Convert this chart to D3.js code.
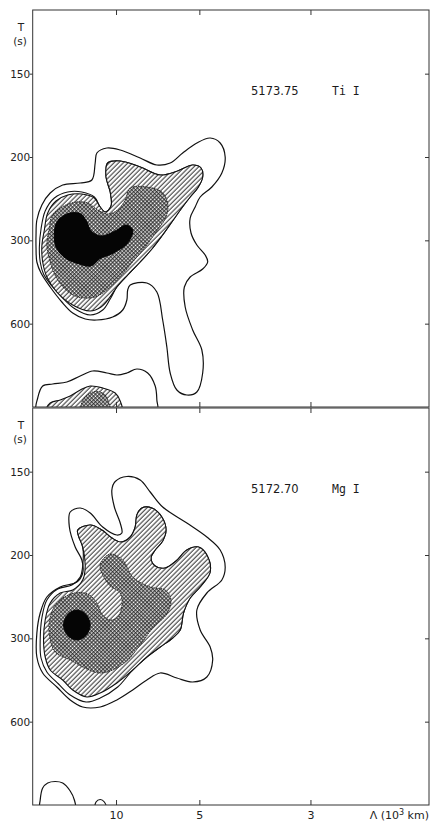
<!DOCTYPE html>
<html>
<head>
<meta charset="utf-8">
<script src="https://cdn.jsdelivr.net/npm/d3@7/dist/d3.min.js"></script>
<style>
  html, body { margin: 0; padding: 0; background: #fff; }
  svg { display: block; }
  .axis text { font-family: "DejaVu Sans", sans-serif; font-size: 10.5px; fill: #222; }
  .axis line { stroke: #333; stroke-width: 1; }
  .axis path { display: none; }
</style>
</head>
<body>
<svg id="chart" width="431" height="823"></svg>
<script>
// Axis ticks: wavelength Λ (10^3 km) and period T (s)
const wavelengthTicks = [10, 5, 3];
const periodTicks = [150, 200, 300, 600];

// Contours in (wavenumber 1/Λ [per 10^3 km], frequency [mHz])
// ---- 5173.75 Ti I ----
const tiOuter = [
  [0.189,3.78],[0.190,3.48],[0.197,3.24],[0.207,3.04],[0.210,2.90],[0.204,2.76],[0.189,2.60],
  [0.182,2.40],[0.183,2.00],[0.192,1.54],[0.203,1.14],[0.204,0.68],[0.197,0.30],[0.185,0.24],
  [0.173,0.34],[0.165,0.68],[0.161,1.20],[0.156,1.74],[0.149,2.30],[0.137,2.48],[0.117,2.44],
  [0.114,2.34],[0.113,2.14],[0.108,1.94],[0.096,1.80],[0.077,1.74],[0.063,1.76],[0.048,1.88],
  [0.035,2.10],[0.021,2.40],[0.010,2.68],[0.005,2.90],[0.004,3.18],[0.004,3.44],[0.005,3.74],
  [0.011,4.04],[0.021,4.28],[0.036,4.44],[0.057,4.48],[0.071,4.54],[0.075,4.88],[0.077,5.08],
  [0.089,5.18],[0.105,5.14],[0.129,4.98],[0.149,4.84],[0.165,4.88],[0.180,5.08],[0.197,5.28],
  [0.213,5.38],[0.225,5.28],[0.231,5.00],[0.227,4.68],[0.215,4.40],[0.201,4.20],[0.195,4.00]
];
const tiLevel2 = [
  [0.090,4.88],[0.105,4.92],[0.129,4.80],[0.153,4.64],[0.174,4.72],[0.192,4.84],[0.202,4.78],
  [0.204,4.60],[0.198,4.38],[0.189,4.20],[0.178,3.96],[0.167,3.70],[0.155,3.42],[0.143,3.16],
  [0.129,2.90],[0.114,2.64],[0.101,2.40],[0.093,2.16],[0.084,1.94],[0.069,1.84],[0.051,1.96],
  [0.036,2.18],[0.023,2.42],[0.013,2.66],[0.009,2.90],[0.008,3.20],[0.010,3.56],[0.015,3.92],
  [0.026,4.18],[0.042,4.30],[0.059,4.30],[0.074,4.20],[0.081,4.00],[0.087,3.90],[0.094,4.02],
  [0.093,4.30],[0.088,4.60]
];
const tiHatched = [
  [0.090,4.88],[0.105,4.92],[0.129,4.80],[0.153,4.64],[0.174,4.72],[0.192,4.84],[0.202,4.78],
  [0.204,4.60],[0.198,4.38],[0.189,4.20],[0.178,3.96],[0.167,3.70],[0.155,3.42],[0.143,3.16],
  [0.129,2.90],[0.114,2.64],[0.101,2.40],[0.092,2.18],[0.082,2.00],[0.069,1.92],[0.048,2.04],
  [0.029,2.30],[0.017,2.60],[0.012,2.90],[0.011,3.22],[0.014,3.54],[0.018,3.88],[0.028,4.12],
  [0.042,4.24],[0.059,4.26],[0.074,4.18],[0.081,4.00],[0.087,3.90],[0.094,4.02],[0.093,4.30],
  [0.088,4.60]
];
const tiCross = [
  [0.117,4.38],[0.137,4.40],[0.155,4.30],[0.162,4.08],[0.160,3.80],[0.149,3.52],[0.135,3.20],
  [0.120,2.90],[0.107,2.64],[0.093,2.40],[0.075,2.20],[0.054,2.20],[0.040,2.34],[0.028,2.60],
  [0.021,2.90],[0.017,3.24],[0.020,3.58],[0.023,3.82],[0.035,4.00],[0.052,4.10],[0.066,4.08],
  [0.078,3.94],[0.090,3.86],[0.102,3.94],[0.111,4.14]
];
const tiCore = [
  [0.033,3.78],[0.045,3.88],[0.058,3.86],[0.065,3.70],[0.070,3.52],[0.082,3.42],[0.099,3.52],
  [0.112,3.64],[0.120,3.54],[0.114,3.28],[0.097,3.08],[0.080,2.96],[0.070,2.82],[0.056,2.86],
  [0.039,2.98],[0.028,3.20],[0.026,3.48],[0.028,3.66]
];
const tiLowOuter = [
  [0.005,-0.10],[0.006,0.18],[0.012,0.42],[0.024,0.46],[0.041,0.50],[0.057,0.62],[0.072,0.72],
  [0.089,0.68],[0.101,0.64],[0.113,0.68],[0.125,0.76],[0.138,0.68],[0.147,0.42],[0.149,0.14],
  [0.149,-0.10],[0.081,-0.26]
];
const tiLowHatched = [
  [0.016,-0.10],[0.021,0.08],[0.033,0.14],[0.045,0.22],[0.057,0.34],[0.069,0.42],[0.084,0.38],
  [0.099,0.28],[0.105,0.12],[0.107,-0.10],[0.063,-0.26]
];
const tiLowCross = [
  [0.059,-0.10],[0.060,0.14],[0.069,0.28],[0.078,0.31],[0.087,0.24],[0.091,0.10],[0.093,-0.10],
  [0.076,-0.22]
];

// ---- 5172.70 Mg I ----
const mgOuter = [
  [0.095,6.30],[0.099,6.47],[0.113,6.57],[0.129,6.50],[0.141,6.26],[0.156,5.96],[0.185,5.64],
  [0.209,5.36],[0.225,5.10],[0.231,4.76],[0.227,4.50],[0.209,4.24],[0.197,3.90],[0.201,3.50],
  [0.213,3.16],[0.216,2.90],[0.209,2.56],[0.192,2.46],[0.173,2.54],[0.153,2.64],[0.137,2.50],
  [0.120,2.30],[0.101,2.10],[0.081,1.96],[0.060,1.96],[0.045,2.10],[0.029,2.36],[0.012,2.64],
  [0.005,2.96],[0.005,3.44],[0.009,3.84],[0.017,4.16],[0.033,4.36],[0.053,4.46],[0.060,4.64],
  [0.059,4.90],[0.051,5.16],[0.044,5.56],[0.045,5.86],[0.057,5.94],[0.069,5.84],[0.084,5.56],
  [0.101,5.40],[0.107,5.44],[0.105,5.64],[0.098,5.96]
];
const mgLevel2 = [
  [0.054,5.50],[0.069,5.60],[0.083,5.50],[0.095,5.34],[0.106,5.26],[0.117,5.36],[0.123,5.56],
  [0.125,5.80],[0.131,5.94],[0.143,5.94],[0.155,5.76],[0.160,5.50],[0.156,5.28],[0.147,5.10],
  [0.142,4.94],[0.147,4.78],[0.159,4.74],[0.172,4.88],[0.185,5.10],[0.199,5.16],[0.209,5.00],
  [0.213,4.66],[0.202,4.38],[0.189,4.14],[0.181,3.84],[0.177,3.50],[0.168,3.34],[0.153,3.16],
  [0.137,2.96],[0.120,2.70],[0.102,2.36],[0.081,2.14],[0.064,2.06],[0.045,2.20],[0.031,2.42],
  [0.017,2.66],[0.010,2.94],[0.009,3.30],[0.011,3.74],[0.017,4.10],[0.030,4.32],[0.047,4.40],
  [0.057,4.56],[0.060,4.78],[0.060,5.16],[0.055,5.38]
];
const mgHatched = [
  [0.054,5.50],[0.069,5.60],[0.083,5.50],[0.095,5.34],[0.106,5.26],[0.117,5.36],[0.123,5.56],
  [0.125,5.80],[0.131,5.94],[0.143,5.94],[0.155,5.76],[0.160,5.50],[0.156,5.28],[0.147,5.10],
  [0.142,4.94],[0.147,4.78],[0.159,4.74],[0.172,4.88],[0.185,5.10],[0.199,5.16],[0.209,5.00],
  [0.213,4.66],[0.202,4.38],[0.189,4.14],[0.181,3.84],[0.177,3.50],[0.168,3.34],[0.153,3.16],
  [0.137,2.96],[0.120,2.70],[0.101,2.44],[0.081,2.24],[0.065,2.16],[0.048,2.30],[0.036,2.50],
  [0.021,2.70],[0.015,2.96],[0.013,3.30],[0.015,3.70],[0.021,4.04],[0.033,4.24],[0.048,4.30],
  [0.060,4.50],[0.063,4.76],[0.060,5.16],[0.055,5.38]
];
const mgCross = [
  [0.082,4.86],[0.093,5.02],[0.108,4.90],[0.120,4.56],[0.141,4.36],[0.159,4.30],[0.166,4.10],
  [0.161,3.82],[0.144,3.54],[0.129,3.20],[0.113,2.88],[0.096,2.70],[0.081,2.64],[0.065,2.72],
  [0.045,2.90],[0.027,3.06],[0.020,3.40],[0.021,3.76],[0.030,4.06],[0.050,4.24],[0.066,4.22],
  [0.077,4.04],[0.083,3.82],[0.093,3.70],[0.102,3.76],[0.107,3.98],[0.105,4.24],[0.093,4.38],
  [0.086,4.54],[0.081,4.74]
];
const mgCore = [
  [0.053,3.90],[0.064,3.81],[0.069,3.60],[0.064,3.39],[0.053,3.30],[0.042,3.39],[0.037,3.60],
  [0.042,3.81]
];
const mgLowA = [
  [0.009,-0.10],[0.009,0.10],[0.012,0.34],[0.018,0.44],[0.027,0.47],[0.036,0.44],[0.045,0.28],
  [0.050,0.10],[0.051,-0.10],[0.030,-0.22]
];
const mgLowB = [
  [0.075,-0.06],[0.076,0.06],[0.081,0.11],[0.086,0.06],[0.088,-0.06],[0.081,-0.10]
];

const panels = [
  { id: "ti", top: 10, bottom: 407, wave: "5173.75", species: "Ti I",
    outer: [tiOuter, tiLowOuter], level2: [tiLevel2], hatched: [tiHatched, tiLowHatched],
    cross: [tiCross, tiLowCross], core: [tiCore] },
  { id: "mg", top: 408, bottom: 805, wave: "5172.70", species: "Mg I",
    outer: [mgOuter, mgLowA, mgLowB], level2: [mgLevel2], hatched: [mgHatched],
    cross: [mgCross], core: [mgCore] }
];

const svg = d3.select("#chart");
const left = 32.7, right = 429;
const x = d3.scaleLinear().domain([0, 0.4756]).range([left, right]);
const waveTickK = wavelengthTicks.map(L => 1 / L);
const freqTicks = periodTicks.map(T => 1000 / T);

// fill patterns: single diagonal hatching and fine cross-hatching
const defs = svg.append("defs");
const hatch = defs.append("pattern").attr("id", "hatch")
  .attr("patternUnits", "userSpaceOnUse").attr("width", 3.3).attr("height", 3.3)
  .attr("patternTransform", "rotate(45)");
hatch.append("rect").attr("width", 3.3).attr("height", 3.3).attr("fill", "#fff");
hatch.append("line").attr("x1", 1).attr("y1", 0).attr("x2", 1).attr("y2", 3.3)
  .attr("stroke", "#222").attr("stroke-width", 0.95);

const xh = defs.append("pattern").attr("id", "xhatch")
  .attr("patternUnits", "userSpaceOnUse").attr("width", 2.7).attr("height", 2.7)
  .attr("patternTransform", "rotate(45)");
xh.append("rect").attr("width", 2.7).attr("height", 2.7).attr("fill", "#fff");
xh.append("line").attr("x1", 0.7).attr("y1", 0).attr("x2", 0.7).attr("y2", 2.7)
  .attr("stroke", "#222").attr("stroke-width", 1);
xh.append("line").attr("x1", 0).attr("y1", 0.7).attr("x2", 2.7).attr("y2", 0.7)
  .attr("stroke", "#222").attr("stroke-width", 1);

panels.forEach(p => {
  const y = d3.scaleLinear().domain([0, 7.94]).range([p.bottom, p.top]);
  const line = d3.line().x(d => x(d[0])).y(d => y(d[1]))
    .curve(d3.curveCatmullRomClosed.alpha(0.5));

  defs.append("clipPath").attr("id", "clip-" + p.id)
    .append("rect").attr("x", left).attr("y", p.top)
    .attr("width", right - left).attr("height", p.bottom - p.top);

  const g = svg.append("g").attr("clip-path", `url(#clip-${p.id})`);

  g.selectAll(".outer").data(p.outer).join("path")
    .attr("d", line).attr("fill", "none").attr("stroke", "#111").attr("stroke-width", 1.2);
  g.selectAll(".lvl2").data(p.level2).join("path")
    .attr("d", line).attr("fill", "none").attr("stroke", "#111").attr("stroke-width", 1.1);
  g.selectAll(".hatched").data(p.hatched).join("path")
    .attr("d", line).attr("fill", "url(#hatch)").attr("stroke", "#111").attr("stroke-width", 1.1);
  g.selectAll(".cross").data(p.cross).join("path")
    .attr("d", line).attr("fill", "url(#xhatch)").attr("stroke", "#222")
    .attr("stroke-width", 0.9).attr("stroke-dasharray", "1.6,0.8");
  g.selectAll(".core").data(p.core).join("path")
    .attr("d", line).attr("fill", "#050505").attr("stroke", "#050505").attr("stroke-width", 1);

  // frame
  svg.append("rect").attr("x", left).attr("y", p.top)
    .attr("width", right - left).attr("height", p.bottom - p.top)
    .attr("fill", "none").attr("stroke", "#333").attr("stroke-width", 1);

  // period axis (left, labelled)
  svg.append("g").attr("class", "axis").attr("transform", `translate(${left},0)`)
    .call(d3.axisLeft(y).tickValues(freqTicks).tickFormat((d, i) => periodTicks[i])
      .tickSize(3).tickPadding(0))
    .selectAll("text").attr("dx", "0.5");
  // period axis (right, ticks only, inward)
  svg.append("g").attr("class", "axis").attr("transform", `translate(${right},0)`)
    .call(d3.axisLeft(y).tickValues(freqTicks).tickFormat("").tickSize(4));
  // wavelength ticks, inward on top and bottom edges
  svg.append("g").attr("class", "axis").attr("transform", `translate(0,${p.top})`)
    .call(d3.axisBottom(x).tickValues(waveTickK).tickFormat("").tickSize(5));
  svg.append("g").attr("class", "axis").attr("transform", `translate(0,${p.bottom})`)
    .call(d3.axisTop(x).tickValues(waveTickK).tickFormat("").tickSize(5));

  // axis unit label
  const unit = svg.append("text").attr("font-family", "DejaVu Sans, sans-serif")
    .attr("font-size", 10.5).attr("fill", "#222").attr("text-anchor", "middle");
  unit.append("tspan").attr("x", 21).attr("y", p.top + 21).text("T");
  unit.append("tspan").attr("x", 20).attr("y", p.top + 35).text("(s)");

  // line identification
  svg.append("text").attr("x", x(0.2620)).attr("y", p.top + 85)
    .attr("font-family", "DejaVu Sans, sans-serif").attr("font-size", 11.5)
    .attr("fill", "#1a1a1a").text(p.wave);
  svg.append("text").attr("x", x(0.3592)).attr("y", p.top + 85)
    .attr("font-family", "DejaVu Sans Mono, monospace").attr("font-size", 11.5)
    .attr("fill", "#1a1a1a").text(p.species);
});

// wavelength axis labels along the bottom edge
const bottomY = panels[1].bottom;
svg.append("g").attr("class", "axis").attr("transform", `translate(0,${bottomY})`)
  .call(d3.axisBottom(x).tickValues(waveTickK).tickFormat((d, i) => wavelengthTicks[i])
    .tickSize(0).tickPadding(6))
  .selectAll("text").style("font-size", "11px");

const xl = svg.append("text").attr("x", right).attr("y", bottomY + 14)
  .attr("text-anchor", "end").attr("font-family", "DejaVu Sans, sans-serif")
  .attr("font-size", 11).attr("fill", "#222");
xl.append("tspan").text("Λ (10");
xl.append("tspan").attr("font-size", 8).attr("dy", -4).text("3");
xl.append("tspan").attr("dy", 4).text(" km)");
</script>
</body>
</html>
